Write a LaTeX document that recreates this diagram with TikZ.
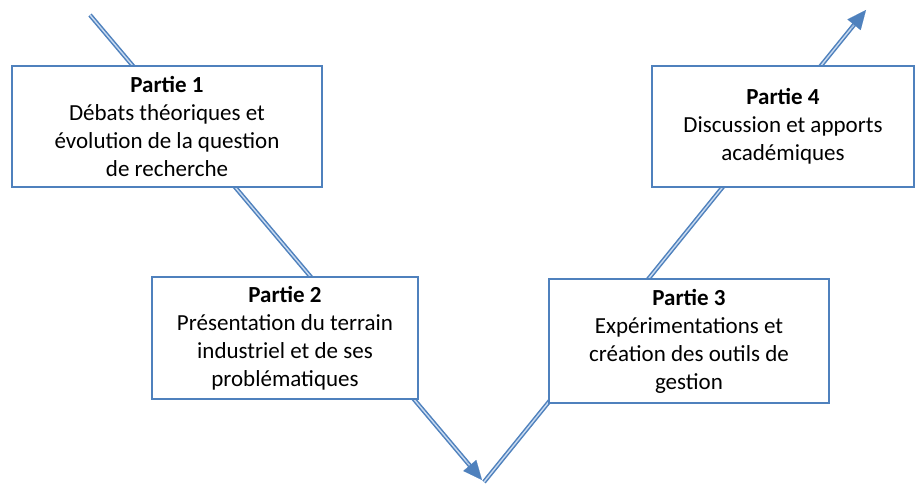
\documentclass[tikz,border=0pt]{standalone}
\usepackage{fontspec}
\setmainfont{Carlito}
\usepackage{xcolor}
\usetikzlibrary{arrows.meta,calc}
\definecolor{ofblue}{RGB}{79,129,189}
\definecolor{oflight}{RGB}{200,218,240}
\tikzset{
  partbox/.style={draw=ofblue, line width=2.2pt, fill=white, align=center,
    font=\fontsize{23}{28}\selectfont},
  vline/.style={draw=ofblue, double=oflight, double distance=1.4pt, line width=1.5pt},
  vtip/.style={draw=ofblue, line width=0.1pt, -{Triangle[length=19pt,width=17pt]}}
}

\begin{document}
\begin{tikzpicture}[x=1pt,y=-1pt]
				\useasboundingbox (0,0) rectangle (916,484);
				\coordinate (S) at (90,15);
				\coordinate (V) at (482,480);
				\coordinate (W) at (484,482);
				\coordinate (E) at (866,10);
				\draw[vline] (S) -- ($(V)!10pt!(S)$);
				\draw[vline] (W) -- ($(E)!10pt!(W)$);
				\draw[vtip] ($(V)!24pt!(S)$) -- (V);
				\draw[vtip] ($(E)!24pt!(W)$) -- (E);
				\node (P1) at (167,126.5) [partbox, minimum width=310pt, minimum height=121pt] {\textbf{Partie 1}\\D\'ebats th\'eoriques et\\\'evolution de la question\\de recherche};
				\node (P2) at (285,338) [partbox, minimum width=266pt, minimum height=122pt] {\textbf{Partie 2}\\Pr\'esentation du terrain\\industriel et de ses\\probl\'ematiques};
				\node (P3) at (689,341) [partbox, minimum width=280pt, minimum height=124pt] {\textbf{Partie 3}\\Exp\'erimentations et\\cr\'eation des outils de\\gestion};
				\node (P4) at (783,126.5) [partbox, minimum width=262pt, minimum height=121pt] {\textbf{Partie 4}\\Discussion et apports\\acad\'emiques};
			\end{tikzpicture}
\end{document}
